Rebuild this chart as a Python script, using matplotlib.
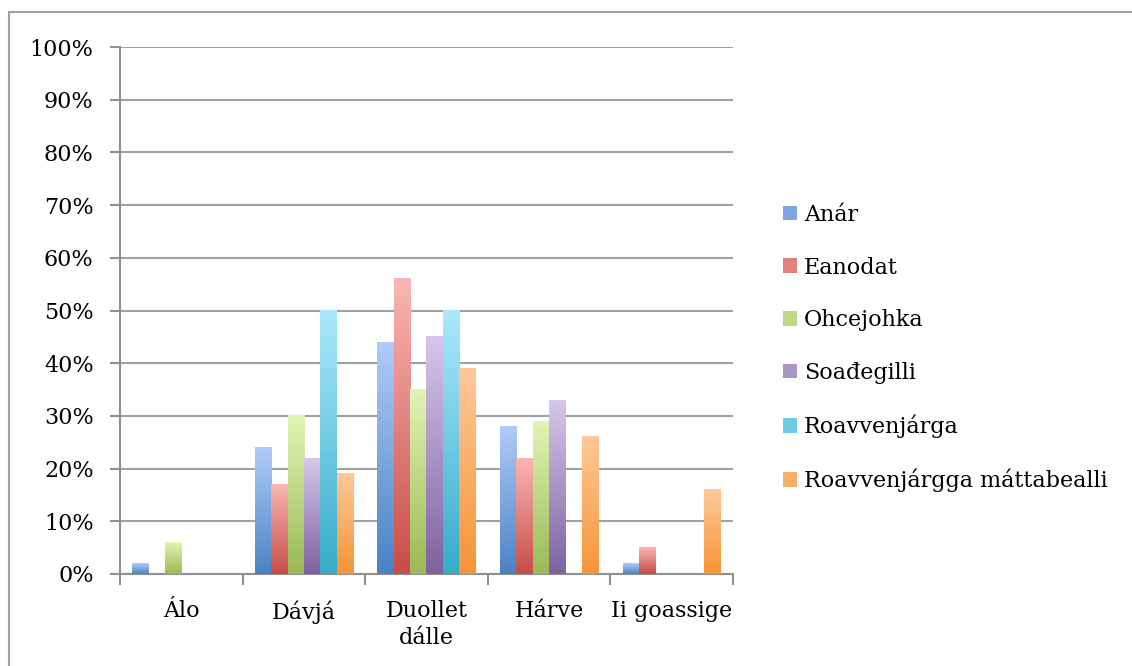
import numpy as np
import matplotlib
matplotlib.use('Agg')
import matplotlib.pyplot as plt
from matplotlib.colors import LinearSegmentedColormap
from matplotlib.patches import Rectangle
from matplotlib.ticker import FixedLocator, PercentFormatter

plt.rcParams['font.family'] = ['DejaVu Serif']

categories = ['Álo', 'Dávjá', 'Duollet\ndálle', 'Hárve', 'Ii goassige']
series = ['Anár', 'Eanodat', 'Ohcejohka', 'Soađegilli', 'Roavvenjárga',
          'Roavvenjárgga máttabealli']
anar = [2, 24, 44, 28, 2]
eanodat = [0, 17, 56, 22, 5]
ohcejohka = [6, 30, 35, 29, 0]
soadegilli = [0, 22, 45, 33, 0]
roavvenjarga = [0, 50, 50, 0, 0]
mattabealli = [0, 19, 39, 26, 16]
values = [anar, eanodat, ohcejohka, soadegilli, roavvenjarga, mattabealli]

# (top colour, bottom colour) for the gradient fill of each series
colours = [('#b0cbf7', '#4a83c5'),
           ('#fab6b4', '#c84d47'),
           ('#e0f4b5', '#9bba55'),
           ('#d5c6ea', '#7f62a1'),
           ('#abe8fc', '#36acc9'),
           ('#fec89a', '#f69535')]

fig = plt.figure(figsize=(11.32, 6.66), dpi=100)
fig.patches.append(Rectangle((9 / 1132, -0.1), 1.2, 1 - 12 / 666 + 0.1,
                             transform=fig.transFigure, fill=False,
                             edgecolor='#a0a0a0', linewidth=1.5))
ax = fig.add_axes([120 / 1132, 1 - 574 / 666, 613 / 1132, 527 / 666])

x = np.arange(len(categories))
n = len(series)
w = 0.8 / n
handles = []
for i, (name, vals, (top, bottom)) in enumerate(zip(series, values, colours)):
    cmap = LinearSegmentedColormap.from_list(name, [bottom, top])
    bars = ax.bar(x - 0.4 + w * (i + 0.5), vals, w, color=bottom, zorder=2,
                  label=name, linewidth=0)
    for b in bars:
        h = b.get_height()
        if h <= 0:
            continue
        grad = np.linspace(1, 0, 100).reshape(-1, 1)
        ax.imshow(grad, extent=[b.get_x(), b.get_x() + b.get_width(), 0, h],
                  cmap=cmap, aspect='auto', zorder=3, interpolation='bilinear')
    handles.append(Rectangle((0, 0), 1, 1, facecolor=cmap(0.5), edgecolor='none'))

ax.set_xlim(-0.5, len(categories) - 0.5)
ax.set_ylim(0, 100)
ax.yaxis.set_major_locator(FixedLocator(np.arange(0, 101, 10)))
ax.yaxis.set_major_formatter(PercentFormatter(decimals=0))
ax.set_xticks(x)
ax.set_xticklabels(categories, linespacing=1.25)
ax.xaxis.set_minor_locator(FixedLocator(np.arange(-0.5, len(categories), 1)))
ax.tick_params(axis='x', which='major', length=0, pad=19, labelsize=16)
ax.tick_params(axis='x', which='minor', length=8, width=1.5, color='#909090')
ax.tick_params(axis='y', length=7, width=1.5, color='#909090', pad=12, labelsize=16)

ax.grid(axis='y', color='#a0a0a0', linewidth=1.5, zorder=0)
ax.set_axisbelow(True)
for s in ['top', 'right']:
    ax.spines[s].set_visible(False)
for s in ['left', 'bottom']:
    ax.spines[s].set_color('#909090')
    ax.spines[s].set_linewidth(1.5)

fig.legend(handles, series, loc='center left',
           bbox_to_anchor=(763 / 1132, 1 - 348 / 666), frameon=False,
           fontsize=16, handlelength=0.65, handleheight=0.65,
           handletextpad=0.3, labelspacing=1.38)

fig.savefig('out.png', dpi=100)
